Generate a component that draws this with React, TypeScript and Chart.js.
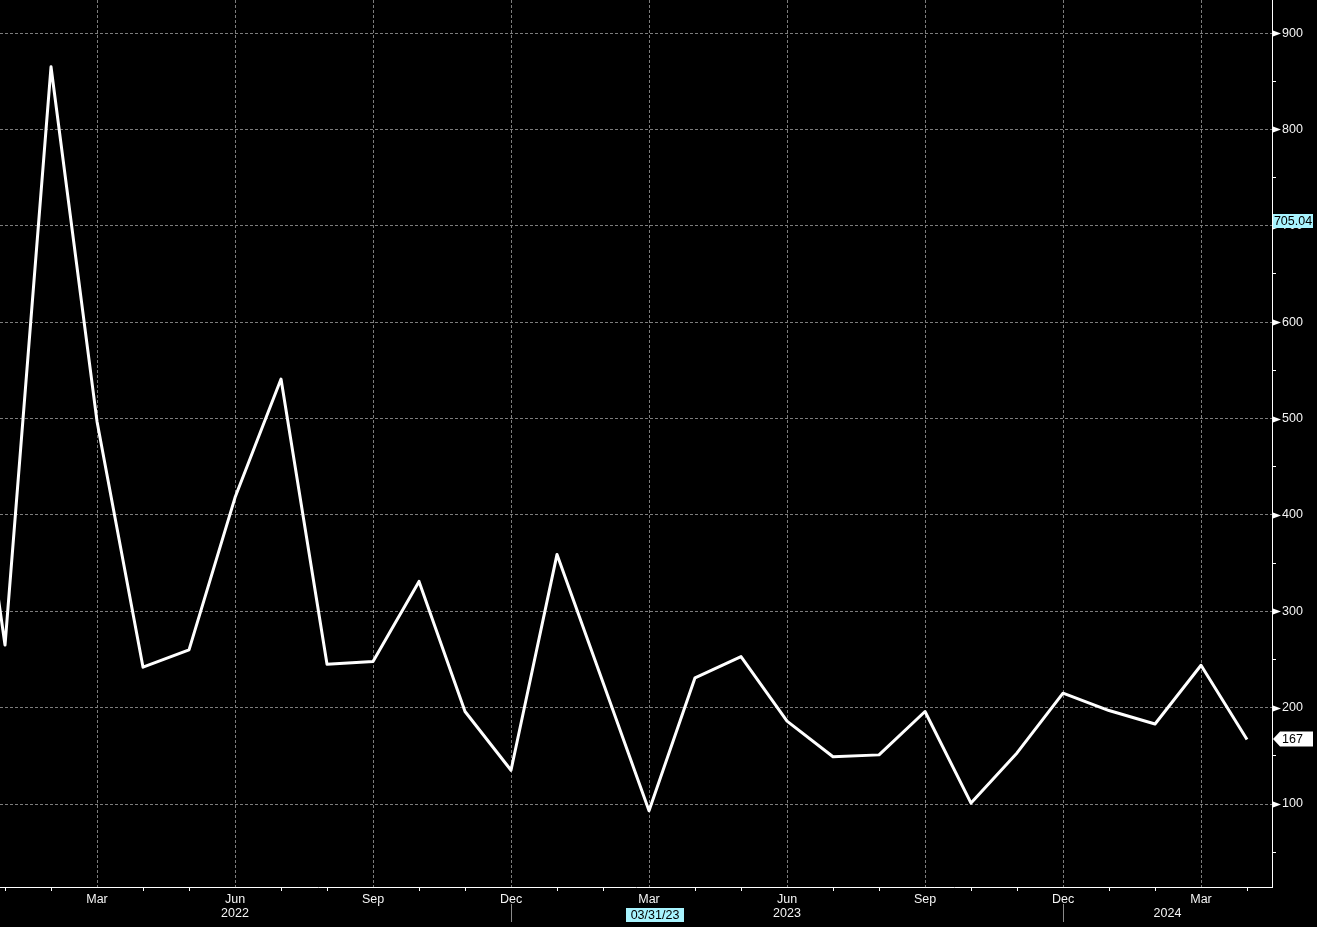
import React, { useEffect, useRef } from 'react';
import { Chart, registerables } from 'chart.js';

Chart.register(...registerables);

// ---- data ----
const months = [
  '2021-12',
  '2022-01', '2022-02', '2022-03', '2022-04', '2022-05', '2022-06',
  '2022-07', '2022-08', '2022-09', '2022-10', '2022-11', '2022-12',
  '2023-01', '2023-02', '2023-03', '2023-04', '2023-05', '2023-06',
  '2023-07', '2023-08', '2023-09', '2023-10', '2023-11', '2023-12',
  '2024-01', '2024-02', '2024-03', '2024-04',
];
const payrolls = [
  600,
  265, 865, 497, 242, 260, 418,
  541, 245, 248, 331, 196, 135,
  359, 226, 93, 231, 253, 186,
  149, 151, 196, 101, 153, 215,
  197, 183, 244, 167,
];
const monthNames = ['Jan', 'Feb', 'Mar', 'Apr', 'May', 'Jun', 'Jul', 'Aug', 'Sep', 'Oct', 'Nov', 'Dec'];
const quarterMonths = [2, 5, 8, 11];
const yearLabels = [2022, 2023, 2024];
const highlightDate = '03/31/23';
const highlightMonth = '2023-03';
const referenceLevel = 705.04;
const referenceLabel = '705.04';

// ---- axis ranges / styling ----
const BASE_YEAR = 2022;
const X_MIN = -0.109;
const X_MAX = 27.543;
const Y_MIN = 13.9;
const Y_MAX = 934.3;

const FONT_FAMILY = "'Liberation Sans', Arial, sans-serif";
const FONT_SIZE = 12.5;
const TEXT = '#f4f4f4';
const GRID = '#7c7c7c';
const DASH = [3, 2];
const CYAN = '#a8f4ff';

function monthIndex(m: string) {
  const [yy, mo] = m.split('-').map(Number);
  return (yy - BASE_YEAR) * 12 + (mo - 1);
}
function monthOf(v: number) {
  return ((Math.round(v) % 12) + 12) % 12;
}
function isQuarter(v: number) {
  return quarterMonths.includes(monthOf(v));
}

const overlayPlugin = {
  id: 'bbgOverlay',
  beforeDraw(chart: any) {
    const { ctx, width, height } = chart;
    ctx.save();
    ctx.fillStyle = '#000';
    ctx.fillRect(0, 0, width, height);
    ctx.restore();
  },
  afterDraw(chart: any) {
    const { ctx, chartArea } = chart;
    const xs = chart.scales.x;
    const ys = chart.scales.y;
    const right = chartArea.right;
    const bottom = chartArea.bottom;
    ctx.save();

    // arrow markers on major y ticks
    ctx.fillStyle = '#ffffff';
    ys.ticks.forEach((t: any) => {
      if (t.value % 100 === 0) {
        const py = Math.round(ys.getPixelForValue(t.value)) + 0.5;
        ctx.beginPath();
        ctx.moveTo(right + 1, py - 3);
        ctx.lineTo(right + 9, py);
        ctx.lineTo(right + 1, py + 3);
        ctx.closePath();
        ctx.fill();
      }
    });

    // year separators under December ticks
    ctx.strokeStyle = '#8a8a8a';
    ctx.lineWidth = 1;
    xs.ticks.forEach((t: any) => {
      if (monthOf(t.value) === 11) {
        const px = Math.round(xs.getPixelForValue(t.value)) + 0.5;
        ctx.beginPath();
        ctx.moveTo(px, bottom + 17);
        ctx.lineTo(px, bottom + 35);
        ctx.stroke();
      }
    });

    ctx.font = `${FONT_SIZE}px ${FONT_FAMILY}`;
    ctx.textBaseline = 'middle';

    // year labels (second row)
    ctx.fillStyle = TEXT;
    ctx.textAlign = 'center';
    yearLabels.forEach((yr) => {
      const start = (yr - BASE_YEAR) * 12 - 1;
      const end = Math.min(start + 12, X_MAX);
      const px = xs.getPixelForValue((start + end) / 2);
      ctx.fillText(String(yr), px, bottom + 26.5);
    });

    // highlighted date
    const hx = xs.getPixelForValue(monthIndex(highlightMonth));
    ctx.fillStyle = CYAN;
    ctx.fillRect(Math.round(hx) - 23, bottom + 21, 58, 14);
    ctx.fillStyle = '#000';
    ctx.fillText(highlightDate, Math.round(hx) + 6, bottom + 28.5);

    // reference level box
    const ry = Math.round(ys.getPixelForValue(referenceLevel));
    ctx.fillStyle = CYAN;
    ctx.fillRect(right + 1, ry - 7, 40, 14);
    ctx.fillStyle = '#000';
    ctx.fillText(referenceLabel, right + 21, ry + 0.5);

    // last value box
    const last = payrolls[payrolls.length - 1];
    const ly = Math.round(ys.getPixelForValue(last));
    ctx.fillStyle = '#ffffff';
    ctx.beginPath();
    ctx.moveTo(right + 1, ly);
    ctx.lineTo(right + 8, ly - 7.5);
    ctx.lineTo(right + 41, ly - 7.5);
    ctx.lineTo(right + 41, ly + 7.5);
    ctx.lineTo(right + 8, ly + 7.5);
    ctx.closePath();
    ctx.fill();
    ctx.fillStyle = '#000';
    ctx.textAlign = 'left';
    ctx.fillText(String(last), right + 10, ly + 0.5);

    ctx.restore();
  },
};

export default function App() {
  const ref = useRef<HTMLCanvasElement>(null);

  useEffect(() => {
    document.body.style.margin = '0';
    document.body.style.background = '#000';
    const points = months.map((m, i) => ({ x: monthIndex(m), y: payrolls[i] }));
    const chart = new Chart(ref.current as HTMLCanvasElement, {
      type: 'line',
      data: {
        datasets: [
          {
            data: points,
            borderColor: '#ffffff',
            borderWidth: 3,
            pointRadius: 0,
            tension: 0,
            fill: false,
            borderJoinStyle: 'round',
          } as any,
        ],
      },
      options: {
        animation: false,
        responsive: false,
        devicePixelRatio: 1,
        layout: { padding: 0 },
        plugins: {
          legend: { display: false },
          tooltip: { enabled: false },
        },
        scales: {
          x: {
            type: 'linear',
            position: 'bottom',
            min: X_MIN,
            max: X_MAX,
            afterFit: (s: any) => {
              s.height = 40;
              s.paddingLeft = 0;
              s.paddingRight = 0;
            },
            grid: {
              color: (c: any) => (c.tick && isQuarter(c.tick.value) ? GRID : 'transparent'),
              tickColor: (c: any) => (c.tick && isQuarter(c.tick.value) ? 'transparent' : '#ffffff'),
              tickLength: 4,
              lineWidth: 1,
            },
            border: { display: true, color: '#ffffff', width: 1, dash: DASH },
            ticks: {
              stepSize: 1,
              autoSkip: false,
              includeBounds: false,
              maxRotation: 0,
              minRotation: 0,
              padding: 1,
              color: TEXT,
              font: { family: FONT_FAMILY, size: FONT_SIZE },
              callback: (v: any) => (isQuarter(Number(v)) ? monthNames[monthOf(Number(v))] : ''),
            },
          },
          y: {
            type: 'linear',
            position: 'right',
            min: Y_MIN,
            max: Y_MAX,
            afterFit: (s: any) => {
              s.width = 45;
              s.paddingTop = 0;
              s.paddingBottom = 0;
            },
            grid: {
              color: (c: any) => (c.tick && c.tick.value % 100 === 0 ? GRID : 'transparent'),
              tickColor: (c: any) => (c.tick && c.tick.value % 100 === 0 ? 'transparent' : '#ffffff'),
              tickLength: 4,
              lineWidth: 1,
            },
            border: { display: true, color: '#ffffff', width: 1, dash: DASH },
            ticks: {
              stepSize: 50,
              autoSkip: false,
              includeBounds: false,
              padding: 6,
              color: TEXT,
              font: { family: FONT_FAMILY, size: FONT_SIZE },
              callback: (v: any) => (Number(v) % 100 === 0 ? String(v) : ''),
            },
          },
        },
      },
      plugins: [overlayPlugin],
    });
    return () => chart.destroy();
  }, []);

  return (
    <div style={{ width: 1317, height: 927, position: 'relative' }}>
      <canvas ref={ref} width={1317} height={927} style={{ display: 'block' }} />
    </div>
  );
}
